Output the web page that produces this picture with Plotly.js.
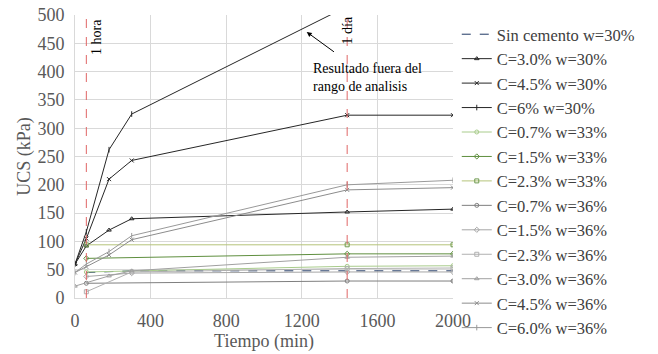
<!DOCTYPE html>
<html>
<head>
<meta charset="utf-8">
<script src="https://cdn.plot.ly/plotly-3.0.1.min.js"></script>
<style>html,body{margin:0;padding:0;background:#fff;}#chart{width:658px;height:354px;}</style>
</head>
<body>
<div id="chart"></div>
<script>
// ---- Data ----
const seriesNames = [
  "Sin cemento w=30%",
  "C=3.0% w=30%", "C=4.5% w=30%", "C=6% w=30%",
  "C=0.7% w=33%", "C=1.5% w=33%", "C=2.3% w=33%",
  "C=0.7% w=36%", "C=1.5% w=36%", "C=2.3% w=36%",
  "C=3.0% w=36%", "C=4.5% w=36%", "C=6.0% w=36%"
];
const t_sinCemento = [60, 300, 1440, 2000];
const ucs_sinCemento = [45, 48, 48, 48];
const t_w30 = [0, 60, 180, 300, 1440, 2000];
const ucs_c30_w30 = [60, 92, 120, 140, 152, 157];
const ucs_c45_w30 = [60, 105, 210, 243, 323, 323];
const ucs_c60_w30 = [60, 117, 262, 325, 515, 515];
const t_w33 = [60, 1440, 2000];
const ucs_c07_w33 = [46, 56, 57];
const ucs_c15_w33 = [70, 78, 78];
const ucs_c23_w33 = [94, 94, 94];
const t_c07_w36 = [60, 1440, 2000];
const ucs_c07_w36 = [26, 30, 30];
const t_c15_w36 = [60, 300, 1440, 2000];
const ucs_c15_w36 = [38, 44, 46, 46];
const t_c23_w36 = [60, 300, 1440, 2000];
const ucs_c23_w36 = [11, 46, 52, 53];
const t_c30_w36 = [0, 180, 300, 1440, 2000];
const ucs_c30_w36 = [21, 39, 48, 72, 74];
const t_w36 = [0, 60, 180, 300, 1440, 2000];
const ucs_c45_w36 = [45, 55, 76, 103, 191, 195];
const ucs_c60_w36 = [45, 60, 82, 110, 200, 208];

const refTimes = [60, 1440];
const refLabels = ["1 hora", "1 día"];
const noteText = "Resultado fuera del<br>rango de analisis";
const xTicks = [0, 400, 800, 1200, 1600, 2000];
const yTicks = [0, 50, 100, 150, 200, 250, 300, 350, 400, 450, 500];

// ---- Styles ----
const SERIF = "Liberation Serif";
const styles = [
  {color: "#1f3864", dash: "dash", symbol: "line-ew", mcolor: "#1f3864"},
  {color: "#262626", dash: "solid", symbol: "triangle-up-open", mcolor: "#262626"},
  {color: "#262626", dash: "solid", symbol: "x-thin-open", mcolor: "#262626"},
  {color: "#262626", dash: "solid", symbol: "line-ns-open", mcolor: "#262626"},
  {color: "#a9cc8c", dash: "solid", symbol: "circle-open", mcolor: "#a9cc8c"},
  {color: "#5f8f3f", dash: "solid", symbol: "diamond-open", mcolor: "#5f8f3f"},
  {color: "#b5c47a", dash: "solid", symbol: "square-open", mcolor: "#6f9a4f"},
  {color: "#7f7f7f", dash: "solid", symbol: "circle-open", mcolor: "#7f7f7f"},
  {color: "#a6a6a6", dash: "solid", symbol: "diamond-open", mcolor: "#a6a6a6"},
  {color: "#b0b0b0", dash: "solid", symbol: "square-open", mcolor: "#b0b0b0"},
  {color: "#a0a0a0", dash: "solid", symbol: "triangle-up-open", mcolor: "#a0a0a0"},
  {color: "#8c8c8c", dash: "solid", symbol: "x-thin-open", mcolor: "#8c8c8c"},
  {color: "#999999", dash: "solid", symbol: "line-ns-open", mcolor: "#999999"}
];

const xs = [t_sinCemento, t_w30, t_w30, t_w30, t_w33, t_w33, t_w33,
            t_c07_w36, t_c15_w36, t_c23_w36, t_c30_w36, t_w36, t_w36];
const ys = [ucs_sinCemento, ucs_c30_w30, ucs_c45_w30, ucs_c60_w30,
            ucs_c07_w33, ucs_c15_w33, ucs_c23_w33,
            ucs_c07_w36, ucs_c15_w36, ucs_c23_w36, ucs_c30_w36, ucs_c45_w36, ucs_c60_w36];

const traces = seriesNames.map((name, i) => ({
  x: xs[i], y: ys[i], name: name, type: "scatter",
  mode: i === 0 ? "lines" : "lines+markers",
  line: {color: styles[i].color, width: 1, dash: styles[i].dash},
  marker: {symbol: styles[i].symbol, size: 4, color: styles[i].mcolor,
           line: {color: styles[i].mcolor, width: 1}},
  cliponaxis: true
}));

const shapes = refTimes.map(t => ({
  type: "line", xref: "x", yref: "paper", x0: t, x1: t, y0: 0, y1: 1,
  line: {color: "#e06666", width: 1, dash: "dash"}
}));

const annotations = [
  {xref: "x", yref: "y", x: refTimes[0], y: 461, text: refLabels[0], textangle: -90,
   showarrow: false, xanchor: "left", xshift: 0, font: {family: SERIF, size: 14, color: "#000"}},
  {xref: "x", yref: "y", x: refTimes[1], y: 473, text: refLabels[1], textangle: -90,
   showarrow: false, xanchor: "center", font: {family: SERIF, size: 14, color: "#000"}},
  {xref: "x", yref: "y", x: 1250, y: 390, text: noteText, showarrow: false, align: "left",
   xanchor: "left", yanchor: "middle", font: {family: SERIF, size: 14, color: "#000"}},
  {xref: "x", yref: "y", x: 1226, y: 470, ax: 1378, ay: 433, axref: "x", ayref: "y",
   text: "", showarrow: true, arrowhead: 2, arrowsize: 1, arrowwidth: 1, arrowcolor: "#000"}
];

const layout = {
  width: 658, height: 354,
  margin: {l: 75, r: 205, t: 15, b: 56},
  paper_bgcolor: "#fff", plot_bgcolor: "#fff",
  font: {family: SERIF, size: 18, color: "#595959"},
  showlegend: true,
  legend: {x: 1.01, xanchor: "left", y: 0.993, yanchor: "top", maxheight: 354,
           font: {family: SERIF, size: 16.5, color: "#404040"},
           bgcolor: "rgba(0,0,0,0)", itemwidth: 30},
  xaxis: {range: [0, 2000], tickvals: xTicks, ticktext: xTicks.map(String),
          showgrid: true, gridcolor: "#d9d9d9", zeroline: false,
          showline: true, linecolor: "#d9d9d9", ticks: "", ticklabelstandoff: 6,
          title: {text: "Tiempo (min)", font: {family: SERIF, size: 18, color: "#595959"}, standoff: 2},
          tickfont: {family: SERIF, size: 18, color: "#595959"}},
  yaxis: {range: [0, 500], tickvals: yTicks, ticktext: yTicks.map(String),
          showgrid: true, gridcolor: "#d9d9d9", zeroline: false,
          showline: true, linecolor: "#d9d9d9", ticks: "", ticklabelstandoff: 6,
          title: {text: "UCS (kPa)", font: {family: SERIF, size: 18, color: "#595959"}, standoff: 2},
          tickfont: {family: SERIF, size: 18, color: "#595959"}},
  shapes: shapes,
  annotations: annotations
};

Plotly.newPlot("chart", traces, layout, {displayModeBar: false, staticPlot: true});
</script>
</body>
</html>
